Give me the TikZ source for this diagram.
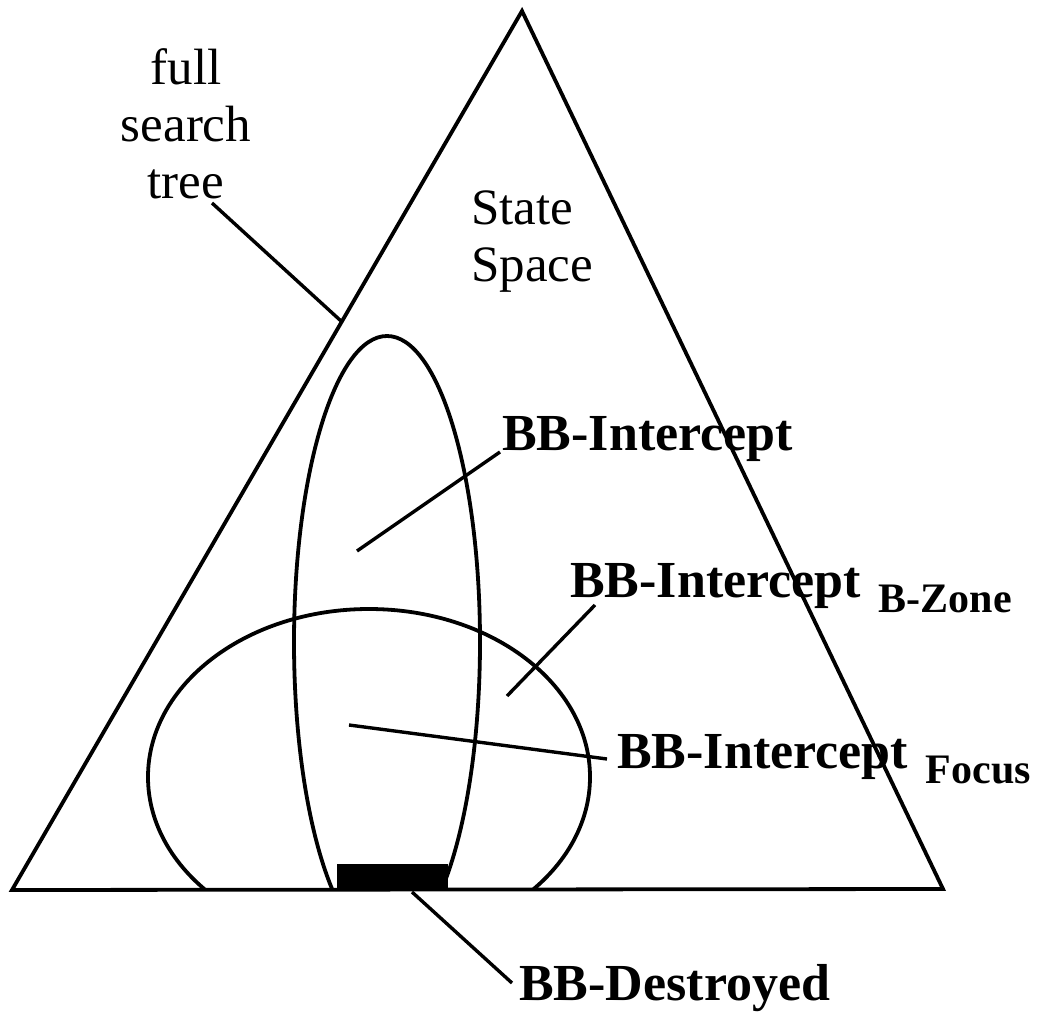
\documentclass[tikz,border=0pt]{standalone}
\usepackage{fontspec}
\setmainfont{Liberation Serif}
\usetikzlibrary{calc}
\tikzset{
  outline/.style={line width=3.8pt, line join=miter},
  leader/.style={line width=3.4pt},
  plaintext/.style={font=\fontsize{51}{57}\selectfont, inner sep=0pt},
  boldtext/.style={font=\bfseries\fontsize{52}{57}\selectfont, inner sep=0pt, anchor=base west},
}
\newcommand{\zonesub}[1]{\hspace{18pt}\raisebox{-15pt}{\fontsize{42}{42}\selectfont #1}}

\begin{document}
\begin{tikzpicture}[x=1pt,y=-1pt]
  \useasboundingbox (0,0) rectangle (1039,1016);
  %状态空间的大三角形
  \coordinate (apex) at (522,11);
  \coordinate (bl) at (12,890);
  \coordinate (br) at (943,889);
  \draw[outline] (bl) -- (apex) -- (br) -- cycle;
  %两个区域,只画底边以上的部分
  \begin{scope}
    \clip (0,0) rectangle (1039,890);
    \draw[outline] (369,777) ellipse [x radius=221pt, y radius=168pt]; %B-Zone
    \draw[outline] (387,642) ellipse [x radius=93pt, y radius=306pt];  %Intercept
  \end{scope}
  %底边上的黑块
  \fill[black] (337,864) rectangle (448,890);
  %文字
  \node[plaintext, align=center, anchor=north] (fst) at (186,48) {full\\search\\tree};
  \node[plaintext, align=left, anchor=north west] (space) at (471,191) {State\\Space};
  \node[boldtext] (icpt) at (502,450) {BB-Intercept};
  \node[boldtext] (bzone) at (570,597) {BB-Intercept\zonesub{B-Zone}};
  \node[boldtext] (focus) at (617,768) {BB-Intercept\zonesub{Focus}};
  \node[boldtext] (dstr) at (519,1000) {BB-Destroyed};
  %引线
  \coordinate (fsttip) at (212,203);
  \coordinate (edge) at (341,321);
  \coordinate (icptin) at (357,551);
  \coordinate (bzonein) at (507,696);
  \coordinate (focusin) at (349,725);
  \coordinate (dstrin) at (412,892);
  \draw[leader] (fsttip) -- (edge);
  \draw[leader] (icptin) -- ([shift={(-2,2)}]icpt.base west);
  \draw[leader] (bzonein) -- ([shift={(25,8)}]bzone.base west);
  \draw[leader] (focusin) -- ([shift={(-10,-9)}]focus.base west);
  \draw[leader] (dstrin) -- ([shift={(-7,-17)}]dstr.base west);
\end{tikzpicture}
\end{document}
